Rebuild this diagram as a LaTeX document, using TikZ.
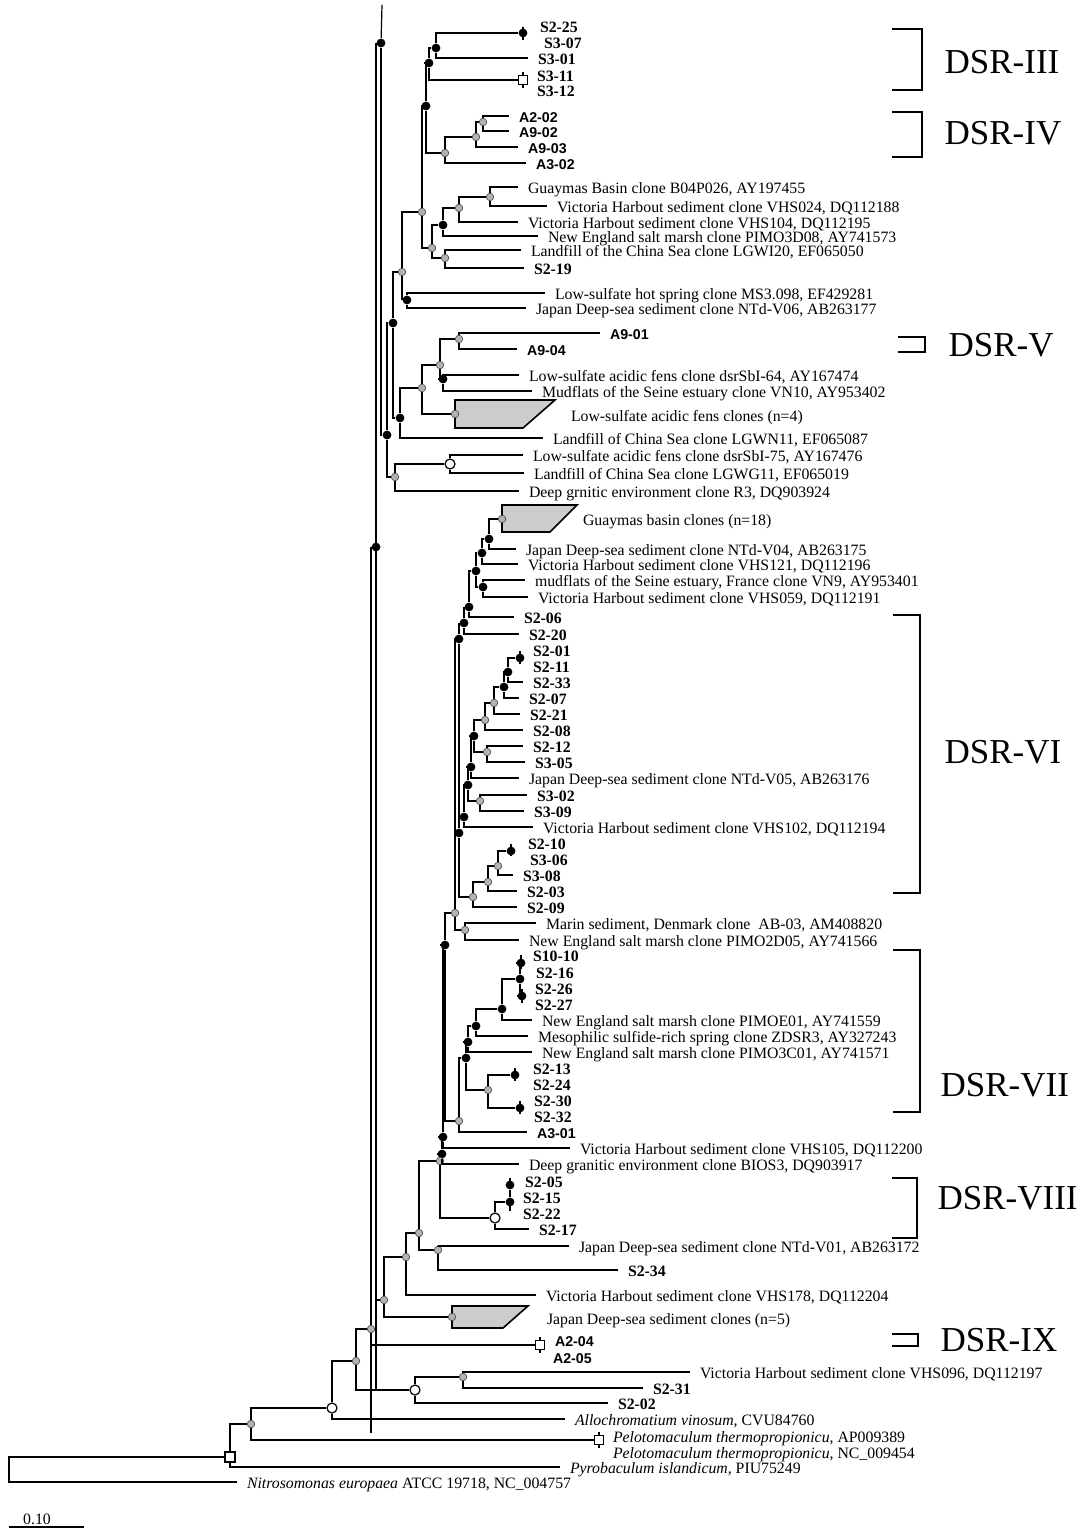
\documentclass[tikz,border=0pt]{standalone}
\usepackage{fontspec}
\setmainfont{Liberation Serif}
\newfontfamily\labsans{Liberation Sans}
\tikzset{every node/.append style={execute at begin node={\hyphenpenalty=10000\exhyphenpenalty=10000\relax}}}

\begin{document}
\begin{tikzpicture}[x=0.5pt, y=-0.5pt, line width=0.6pt, font=\fontsize{7.9}{10}\selectfont,
  lab/.style={anchor=west, inner xsep=5pt, inner ysep=0pt, outer sep=0pt, text height=1.5ex, text depth=0pt},
  sl/.style={lab, font=\fontsize{7.9}{9}\selectfont\bfseries},
  al/.style={lab, font=\fontsize{7.1}{8}\selectfont\labsans\bfseries},
  dk/.style={circle, fill=black, inner sep=0pt, minimum size=4.4pt},
  gd/.style={circle, fill=gray!60, draw=gray!50!black, line width=0.3pt, inner sep=0pt, minimum size=3.8pt},
  oc/.style={circle, draw, fill=white, inner sep=0pt, minimum size=5pt},
  os/.style={rectangle, draw, fill=white, inner sep=0pt, minimum size=4.2pt},
  clps/.style={draw, line width=0.8pt, fill=gray!40},
  brk/.style={line width=1.2pt},
  dsr/.style={anchor=west, inner sep=0pt, font=\fontsize{17.5}{19}\selectfont}]
  \useasboundingbox (0,0) rectangle (1084,1529);
  \coordinate (rt) at (382,5); \coordinate (tb) at (376,1390); \coordinate (jt) at (376,1300);
  \coordinate (e371) at (371,1433); \coordinate (og) at (9,1469);
  \draw[clps] (455,400) -- (555,400) -- (523,428) -- (455,428) -- cycle;
  \draw[clps] (502,505) -- (577,505) -- (550,532) -- (502,532) -- cycle;
  \draw[clps] (452,1306) -- (528,1306) -- (503,1328) -- (452,1328) -- cycle;

  \node[dk] (n0) at (381,43) {}; \node[dk] (n1) at (376,547) {};
  \node[dk] (p1) at (523,33) {}; \node[dk] (a1) at (436,48) {}; \node[os] (sq1) at (523,80) {};
  \node[dk] (b1) at (429,63) {}; \node[dk] (c1) at (426,106) {}; \node[gd] (d1) at (445,153) {};
  \node[gd] (e1) at (476,137) {}; \node[gd] (f1) at (483,122) {};
  \node[gd] (h1) at (490,197) {}; \node[gd] (h2) at (459,208) {}; \node[dk] (h3) at (443,225) {};
  \node[gd] (h4) at (445,258) {}; \node[gd] (h5) at (432,248) {}; \node[gd] (g1) at (422,212) {};
  \node[dk] (k1) at (407,300) {}; \node[gd] (g2) at (402,272) {};
  \node[gd] (v3) at (459,339) {}; \node[dk] (v4) at (443,379) {}; \node[gd] (v2) at (440,365) {};
  \node[gd] (t1) at (455,414) {}; \node[gd] (v1) at (422,388) {}; \node[dk] (v0) at (400,418) {};
  \node[dk] (u1) at (393,323) {}; \node[oc] (wc1) at (450,464) {}; \node[gd] (r1) at (395,477) {};
  \node[dk] (u0) at (387,435) {};

  \node[gd] (t2) at (502,519) {}; \node[dk] (m1) at (489,539) {}; \node[dk] (m2) at (482,553) {};
  \node[dk] (m3) at (483,587) {}; \node[dk] (m4) at (476,571) {}; \node[dk] (m5) at (469,607) {};
  \node[dk] (m6) at (464,623) {}; \node[dk] (m7) at (459,639) {};
  \node[dk] (p2) at (520,658) {}; \node[dk] (q2) at (508,672) {}; \node[dk] (q3) at (504,687) {};
  \node[gd] (q4) at (494,703) {}; \node[gd] (q5) at (485,720) {}; \node[gd] (q6) at (487,752) {};
  \node[dk] (q7) at (474,736) {}; \node[dk] (q8) at (471,767) {}; \node[gd] (q9) at (480,801) {};
  \node[dk] (q10) at (468,785) {}; \node[dk] (q11) at (464,817) {}; \node[dk] (q12) at (459,833) {};
  \node[dk] (p3) at (511,851) {}; \node[gd] (r2) at (498,866) {}; \node[gd] (r3) at (488,882) {};
  \node[gd] (r4) at (473,897) {}; \node[gd] (r5) at (465,930) {}; \node[gd] (m8) at (455,913) {};

  \node[dk] (pa) at (521,963) {}; \node[dk] (pb) at (522,996) {}; \node[dk] (pc) at (520,979) {};
  \node[dk] (w1) at (502,1009) {}; \node[dk] (w2) at (476,1026) {}; \node[dk] (w3) at (468,1042) {};
  \node[dk] (pd) at (515,1075) {}; \node[dk] (pe) at (520,1108) {}; \node[gd] (w4) at (488,1090) {};
  \node[dk] (w5) at (466,1058) {}; \node[gd] (w6) at (459,1121) {};
  \node[dk] (k2) at (445,945) {}; \node[dk] (k3) at (443,1137) {}; \node[dk] (k4) at (442,1154) {};
  \node[gd] (k5) at (440,1161) {};
  \node[dk] (pf) at (510,1185) {}; \node[dk] (px) at (510,1202) {}; \node[oc] (wc2) at (495,1218) {};
  \node[gd] (x1) at (438,1250) {}; \node[gd] (x2) at (419,1233) {}; \node[gd] (x3) at (406,1257) {};
  \node[gd] (t3) at (452,1317) {}; \node[gd] (x4) at (384,1300) {};
  \node[os] (sq2) at (540,1345) {}; \node[gd] (y1) at (371,1329) {};
  \node[gd] (y2) at (463,1377) {}; \node[oc] (wc3) at (415,1390) {}; \node[gd] (y3) at (356,1361) {};
  \node[oc] (wc4) at (332,1408) {}; \node[os] (sq3) at (599,1440) {}; \node[gd] (y4) at (251,1424) {};
  \node[os, minimum size=5pt] (sq4) at (230,1457) {};

  \node[sl] (s225) at (530,26) {S2-25};
  \node[sl] (s307) at (534,42) {S3-07};
  \node[sl] (s301) at (528,58) {S3-01};
  \node[sl] (s311) at (527,75) {S3-11};
  \node[sl] (s312) at (527,90) {S3-12};
  \node[al] (a202) at (509,116) {A2-02};
  \node[al] (a902) at (509,131) {A9-02};
  \node[al] (a903) at (518,147) {A9-03};
  \node[al] (a302) at (526,163) {A3-02};
  \node[lab] (c026) at (518,187) {Guaymas Basin clone B04P026, AY197455};
  \node[lab] (c024) at (547,206) {Victoria Harbout sediment clone VHS024, DQ112188};
  \node[lab] (c104) at (518,222) {Victoria Harbout sediment clone VHS104, DQ112195};
  \node[lab] (cd08) at (538,236) {New England salt marsh clone PIMO3D08, AY741573};
  \node[lab] (cw20) at (521,250) {Landfill of the China Sea clone LGWI20, EF065050};
  \node[sl] (s219) at (524,268) {S2-19};
  \node[lab] (c098) at (545,293) {Low-sulfate hot spring clone MS3.098, EF429281};
  \node[lab] (cv06) at (526,308) {Japan Deep-sea sediment clone NTd-V06, AB263177};
  \node[al] (a901) at (600,333) {A9-01};
  \node[al] (a904) at (517,349) {A9-04};
  \node[lab] (cs64) at (519,375) {Low-sulfate acidic fens clone dsrSbI-64, AY167474};
  \node[lab] (cn10) at (532,391) {Mudflats of the Seine estuary clone VN10, AY953402};
  \node[lab] (cfen) at (561,415) {Low-sulfate acidic fens clones (n=4)};
  \node[lab] (cn11) at (543,438) {Landfill of China Sea clone LGWN11, EF065087};
  \node[lab] (cs75) at (523,455) {Low-sulfate acidic fens clone dsrSbI-75, AY167476};
  \node[lab] (cg11) at (524,473) {Landfill of China Sea clone LGWG11, EF065019};
  \node[lab] (cr3) at (519,491) {Deep grnitic environment clone R3, DQ903924};
  \node[lab] (cg18) at (573,519) {Guaymas basin clones (n=18)};
  \node[lab] (cv04) at (516,549) {Japan Deep-sea sediment clone NTd-V04, AB263175};
  \node[lab] (c121) at (518,564) {Victoria Harbout sediment clone VHS121, DQ112196};
  \node[lab] (cvn9) at (525,580) {mudflats of the Seine estuary, France clone VN9, AY953401};
  \node[lab] (c059) at (528,597) {Victoria Harbout sediment clone VHS059, DQ112191};
  \node[sl] (s206) at (514,617) {S2-06};
  \node[sl] (s220) at (519,634) {S2-20};
  \node[sl] (s201) at (523,650) {S2-01};
  \node[sl] (s211) at (523,666) {S2-11};
  \node[sl] (s233) at (523,682) {S2-33};
  \node[sl] (s207) at (519,698) {S2-07};
  \node[sl] (s221) at (520,714) {S2-21};
  \node[sl] (s208) at (523,730) {S2-08};
  \node[sl] (s212) at (523,746) {S2-12};
  \node[sl] (s305) at (525,762) {S3-05};
  \node[lab] (cv05) at (519,778) {Japan Deep-sea sediment clone NTd-V05, AB263176};
  \node[sl] (s302) at (527,795) {S3-02};
  \node[sl] (s309) at (524,811) {S3-09};
  \node[lab] (c102) at (533,827) {Victoria Harbout sediment clone VHS102, DQ112194};
  \node[sl] (s210) at (518,843) {S2-10};
  \node[sl] (s306) at (520,859) {S3-06};
  \node[sl] (s308) at (513,875) {S3-08};
  \node[sl] (s203) at (517,891) {S2-03};
  \node[sl] (s209) at (517,907) {S2-09};
  \node[lab] (cab3) at (536,923) {Marin sediment, Denmark clone\ \ AB-03, AM408820};
  \node[lab] (cd05) at (519,940) {New England salt marsh clone PIMO2D05, AY741566};
  \node[sl] (s1010) at (523,955) {S10-10};
  \node[sl] (s216) at (526,972) {S2-16};
  \node[sl] (s226) at (525,988) {S2-26};
  \node[sl] (s227) at (525,1004) {S2-27};
  \node[lab] (ce01) at (532,1020) {New England salt marsh clone PIMOE01, AY741559};
  \node[lab] (czd3) at (528,1036) {Mesophilic sulfide-rich spring clone ZDSR3, AY327243};
  \node[lab] (cc01) at (532,1052) {New England salt marsh clone PIMO3C01, AY741571};
  \node[sl] (s213) at (523,1068) {S2-13};
  \node[sl] (s224) at (523,1084) {S2-24};
  \node[sl] (s230) at (524,1100) {S2-30};
  \node[sl] (s232) at (524,1116) {S2-32};
  \node[al] (a301) at (527,1132) {A3-01};
  \node[lab] (c105) at (570,1148) {Victoria Harbout sediment clone VHS105, DQ112200};
  \node[lab] (cbi3) at (519,1164) {Deep granitic environment clone BIOS3, DQ903917};
  \node[sl] (s205) at (515,1181) {S2-05};
  \node[sl] (s215) at (513,1197) {S2-15};
  \node[sl] (s222) at (513,1213) {S2-22};
  \node[sl] (s217) at (529,1229) {S2-17};
  \node[lab] (cv01) at (569,1246) {Japan Deep-sea sediment clone NTd-V01, AB263172};
  \node[sl] (s234) at (618,1270) {S2-34};
  \node[lab] (c178) at (536,1295) {Victoria Harbout sediment clone VHS178, DQ112204};
  \node[lab] (cjp5) at (537,1318) {Japan Deep-sea sediment clones (n=5)};
  \node[al] (a204) at (545,1340) {A2-04};
  \node[al] (a205) at (543,1357) {A2-05};
  \node[lab] (c096) at (690,1372) {Victoria Harbout sediment clone VHS096, DQ112197};
  \node[sl] (s231) at (643,1388) {S2-31};
  \node[sl] (s202) at (608,1403) {S2-02};
  \node[lab] (callo) at (565,1419) {\textit{Allochromatium vinosum}, CVU84760};
  \node[lab] (cpe1) at (603,1436) {\textit{Pelotomaculum thermopropionicu}, AP009389};
  \node[lab] (cpe2) at (603,1452) {\textit{Pelotomaculum thermopropionicu}, NC\_009454};
  \node[lab] (cpyr) at (560,1467) {\textit{Pyrobaculum islandicum}, PIU75249};
  \node[lab] (cnit) at (237,1482) {\textit{Nitrosomonas europaea} ATCC 19718, NC\_004757};

  \draw (rt) -- (n0); \draw (n0) -| (tb); \draw (n0) |- (u0); \draw (jt) -- (x4);
  \draw (n1) -| (y1); \draw (y1) -- (e371);
  \draw (a1) |- (p1); \draw (a1) |- (s301); \draw (b1) |- (a1); \draw (b1) |- (sq1);
  \draw (f1) |- (a202); \draw (f1) |- (a902); \draw (e1) |- (f1); \draw (e1) |- (a903);
  \draw (d1) |- (e1); \draw (d1) |- (a302); \draw (c1) |- (b1); \draw (c1) |- (d1);
  \draw (h1) |- (c026); \draw (h1) |- (c024); \draw (h2) |- (h1); \draw (h2) |- (c104);
  \draw (h3) |- (h2); \draw (h3) |- (cd08); \draw (h4) |- (cw20); \draw (h4) |- (s219);
  \draw (h5) |- (h3); \draw (h5) |- (h4); \draw (g1) |- (c1); \draw (g1) |- (h5);
  \draw (k1) |- (c098); \draw (k1) |- (cv06); \draw (g2) |- (g1); \draw (g2) |- (k1);
  \draw (v3) |- (a901); \draw (v3) |- (a904); \draw (v4) |- (cs64); \draw (v4) |- (cn10);
  \draw (v2) |- (v3); \draw (v2) |- (v4); \draw (v1) |- (v2); \draw (v1) |- (t1);
  \draw (v0) |- (v1); \draw (v0) |- (cn11); \draw (u1) |- (g2); \draw (u1) |- (v0);
  \draw (wc1) |- (cs75); \draw (wc1) |- (cg11); \draw (r1) |- (wc1); \draw (r1) |- (cr3);
  \draw (u0) |- (u1); \draw (u0) |- (r1);
  \draw (m1) |- (t2); \draw (m1) |- (cv04); \draw (m2) |- (m1); \draw (m2) |- (c121);
  \draw (m3) |- (cvn9); \draw (m3) |- (c059); \draw (m4) |- (m2); \draw (m4) |- (m3);
  \draw (m5) |- (m4); \draw (m5) |- (s206); \draw (m6) |- (m5); \draw (m6) |- (s220);
  \draw (m7) |- (m6); \draw (m7) -- (q12);
  \draw (q2) |- (p2); \draw (q2) |- (s233); \draw (q3) |- (q2); \draw (q3) |- (s207);
  \draw (q4) |- (q3); \draw (q4) |- (s221); \draw (q5) |- (q4); \draw (q5) |- (s208);
  \draw (q6) |- (s212); \draw (q6) |- (s305); \draw (q7) |- (q5); \draw (q7) |- (q6);
  \draw (q8) |- (q7); \draw (q8) |- (cv05); \draw (q9) |- (s302); \draw (q9) |- (s309);
  \draw (q10) |- (q8); \draw (q10) |- (q9); \draw (q11) |- (q10); \draw (q11) |- (c102);
  \draw (r2) |- (p3); \draw (r2) |- (s308); \draw (r3) |- (r2); \draw (r3) |- (s203);
  \draw (r4) |- (r3); \draw (r4) |- (s209); \draw (q12) |- (q11); \draw (q12) |- (r4);
  \draw (r5) |- (cab3); \draw (r5) |- (cd05); \draw (m8) |- (m7); \draw (m8) |- (r5);
  \draw (pc) |- (pa); \draw (pc) |- (pb); \draw (w1) |- (pc); \draw (w1) |- (ce01);
  \draw (w2) |- (w1); \draw (w2) |- (czd3); \draw (w3) |- (w2); \draw (w3) |- (cc01);
  \draw (w4) |- (pd); \draw (w4) |- (pe); \draw (w5) |- (w3); \draw (w5) |- (w4);
  \draw (w6) |- (w5); \draw (w6) |- (a301);
  \draw (k2) |- (m8); \draw (k2) |- (w6); \draw (k3) |- (k2); \draw (k3) |- (c105);
  \draw (k4) |- (k3); \draw (k4) |- (cbi3); \draw (px) -- (pf);
  \draw (wc2) |- (px); \draw (wc2) |- (s217); \draw (k5) |- (k4); \draw (k5) |- (wc2);
  \draw (x1) |- (cv01); \draw (x1) |- (s234); \draw (x2) |- (k5); \draw (x2) |- (x1);
  \draw (x3) |- (x2); \draw (x3) |- (c178); \draw (x4) |- (x3); \draw (x4) |- (t3);
  \draw (y1) |- (sq2); \draw (y2) |- (c096); \draw (y2) |- (s231);
  \draw (wc3) |- (y2); \draw (wc3) |- (s202); \draw (y3) |- (y1); \draw (y3) |- (wc3);
  \draw (wc4) |- (y3); \draw (wc4) |- (callo); \draw (y4) |- (wc4); \draw (y4) |- (sq3);
  \draw (sq4) |- (y4); \draw (sq4) |- (cpyr); \draw (og) |- (sq4); \draw (og) |- (cnit);

  \draw (p1.center) ++(0,-6) -- ++(0,13); \draw (p2.center) ++(0,-7) -- ++(0,13);
  \draw (p3.center) ++(0,-7) -- ++(0,12); \draw (pa.center) ++(0,-8) -- ++(0,14);
  \draw (pb.center) ++(0,-7) -- ++(0,14); \draw (pd.center) ++(0,-7) -- ++(0,13);
  \draw (pe.center) ++(0,-7) -- ++(0,13); \draw (pf.center) -- ++(0,-7); \draw (px.center) -- ++(0,9);
  \draw (sq1.north) -- ++(0,-3); \draw (sq1.south) -- ++(0,3); \draw (sq2.north) -- ++(0,-3);
  \draw (sq2.south) -- ++(0,3); \draw (sq3.north) -- ++(0,-3); \draw (sq3.south) -- ++(0,3);

  \draw[brk] (892,29) -| (922,90) -- (892,90);
  \draw[brk] (892,112) -| (922,157) -- (892,157);
  \draw[brk] (898,337) -| (925,352) -- (898,352);
  \draw[brk] (893,615) -| (920,893) -- (893,893);
  \draw[brk] (893,950) -| (920,1112) -- (893,1112);
  \draw[brk] (892,1178) -| (917,1238) -- (892,1238);
  \draw[brk] (892,1334) -| (918,1346) -- (892,1346);
  \node[dsr] (d3) at (944,62) {DSR-III};
  \node[dsr] (d4) at (944,133) {DSR-IV};
  \node[dsr] (d5) at (948,345) {DSR-V};
  \node[dsr] (d6) at (944,752) {DSR-VI};
  \node[dsr] (d7) at (940,1085) {DSR-VII};
  \node[dsr] (d8) at (937,1198) {DSR-VIII};
  \node[dsr] (d9) at (940,1340) {DSR-IX};

  \coordinate (sb0) at (9,1527); \coordinate (sb1) at (84,1527);
  \draw (sb0) -- (sb1);
  \node[inner sep=0pt] (sbt) at (37,1519) {0.10};
\end{tikzpicture}
\end{document}
